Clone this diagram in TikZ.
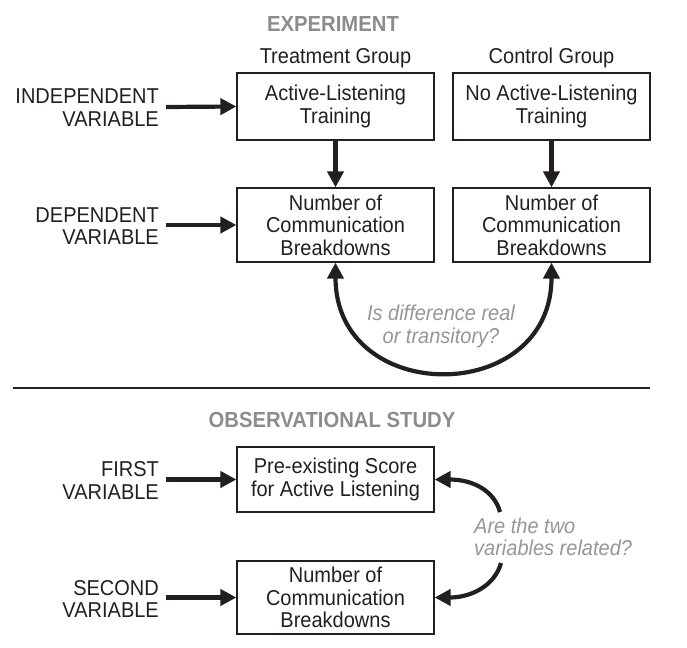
\documentclass[tikz,border=0pt]{standalone}
\usepackage{fontspec}
\setmainfont{Liberation Sans}
\newfontfamily\narrowfont[FakeStretch=0.93]{Liberation Sans}
\usetikzlibrary{arrows.meta}
\definecolor{ink}{RGB}{35,31,32}
\definecolor{headgray}{RGB}{140,140,140}
\definecolor{notegray}{RGB}{150,150,150}
\begin{document}
\begin{tikzpicture}[x=1pt,y=-1pt,
  every node/.style={font=\narrowfont\fontsize{21.5}{22.5}\selectfont, text=ink},
  box/.style={draw=ink, line width=1.2pt, minimum width=197pt, inner sep=2pt, align=center},
  lbl/.style={anchor=east, align=right, inner sep=0pt},
  head/.style={font=\narrowfont\fontsize{21.8}{22.5}\selectfont\bfseries, text=headgray, inner sep=0pt},
  note/.style={font=\narrowfont\fontsize{21.5}{22.5}\selectfont\itshape, text=notegray, inner sep=0pt},
  arr/.style={draw=ink, line width=4.2pt, -{Triangle[length=16pt,width=16pt]}},
  darr/.style={draw=ink, line width=4.2pt, {Triangle[length=16pt,width=16pt]}-{Triangle[length=16pt,width=16pt]}}
]
\useasboundingbox (0,0) rectangle (687,647);

% Experiment
\node[head] (hexp) at (333,24) {EXPERIMENT};
\node[inner sep=0pt] (tg) at (335.5,58) {Treatment Group};
\node[inner sep=0pt] (cg) at (551.5,58) {Control Group};

\node[box, minimum height=67pt] (tl) at (335.5,106.5) {Active-Listening\\Training};
\node[box, minimum height=67pt] (tr) at (551.5,106.5) {No Active-Listening\\Training};
\node[box, minimum height=74pt] (nl) at (335.5,225) {Number of\\Communication\\Breakdowns};
\node[box, minimum height=74pt] (nr) at (551.5,225) {Number of\\Communication\\Breakdowns};

\node[lbl] (iv) at (159,107.5) {INDEPENDENT\\VARIABLE};
\node[lbl] (dv) at (159,226) {DEPENDENT\\VARIABLE};

\draw[arr] (iv.east) ++(7,-0.5) coordinate (ivs) -- (tl.west);
\draw[arr] (dv.east) ++(7,-1) coordinate (dvs) -- (nl.west);
\draw[arr] (tl.south) -- (nl.north);
\draw[arr] (tr.south) -- (nr.north);
\draw[darr] (nl.south) .. controls +(0,144) and +(0,144) .. (nr.south);
\node[note, align=center] (q1) at (441,326.5) {Is difference real\\or transitory?};

% separator
\coordinate (sepl) at (13,388);
\coordinate (sepr) at (650,388);
\draw[draw=ink, line width=1.2pt] (sepl) -- (sepr);

% Observational
\node[head] (hobs) at (332,420) {OBSERVATIONAL STUDY};
\node[box, minimum height=65pt] (b1) at (335.5,479.5) {Pre-existing Score\\for Active Listening};
\node[box, minimum height=73pt] (b2) at (335.5,597.5) {Number of\\Communication\\Breakdowns};

\node[lbl] (fv) at (159,480.5) {FIRST\\VARIABLE};
\node[lbl] (sv) at (159,599) {SECOND\\VARIABLE};
\draw[arr] (fv.east) ++(7,-1) coordinate (fvs) -- (b1.west);
\draw[arr] (sv.east) ++(7,-1.5) coordinate (svs) -- (b2.west);

\node[note, anchor=west, align=left] (q2) at (474,537) {Are the two\\variables related?};
\coordinate (c1) at (500,512);
\coordinate (c2) at (501,563);
\draw[arr] (c1) .. controls (494,490) and (472,479.5) .. (b1.east);
\draw[arr] (c2) .. controls (495,585) and (472,597.5) .. (b2.east);
\end{tikzpicture}
\end{document}
